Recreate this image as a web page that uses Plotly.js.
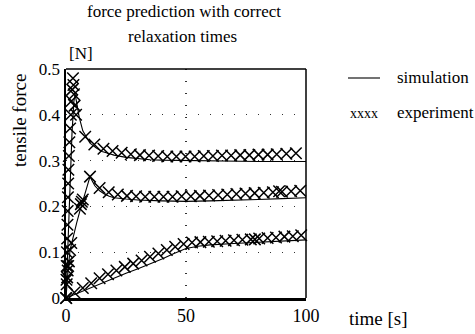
<!DOCTYPE html>
<html>
<head>
<meta charset="utf-8">
<script src="https://cdn.plot.ly/plotly-3.0.1.min.js"></script>
<style>html,body{margin:0;padding:0;background:#fff}#chart{width:475px;height:334px}</style>
</head>
<body>
<div id="chart"></div>
<script>
// Simulation lines
var sim1T = [0, 0.8, 1.7, 2.5, 3.3, 3.8, 4.5, 5.5, 7, 8.5, 10, 12.5, 15, 17.5, 20, 25, 30, 35, 40, 50, 60, 70, 80, 90, 100];
var sim1F = [0, 0.13, 0.26, 0.36, 0.43, 0.445, 0.425, 0.395, 0.365, 0.35, 0.338, 0.328, 0.32, 0.316, 0.312, 0.307, 0.304, 0.302, 0.301, 0.300, 0.299, 0.298, 0.298, 0.298, 0.298];
var sim2T = [0, 0.5, 1, 1.7, 3, 4.5, 5.8, 8, 10, 11, 12, 14, 16, 18, 20, 25, 30, 40, 50, 60, 70, 80, 90, 100];
var sim2F = [0, 0.04, 0.07, 0.105, 0.135, 0.165, 0.19, 0.23, 0.265, 0.255, 0.245, 0.234, 0.227, 0.222, 0.219, 0.216, 0.214, 0.212, 0.211, 0.212, 0.213, 0.215, 0.217, 0.219];
var sim3T = [0, 5, 10, 15, 20, 25, 30, 35, 40, 45, 50, 55, 60, 70, 80, 90, 100];
var sim3F = [0, 0.011, 0.022, 0.033, 0.044, 0.054, 0.064, 0.074, 0.085, 0.097, 0.108, 0.113, 0.116, 0.119, 0.122, 0.125, 0.127];

// Experiment markers
var exp1T = [0.1, 0.2, 0.3, 0.4, 0.5, 0.6, 0.7, 0.8, 0.9, 1.0, 1.2, 1.4, 1.7, 2.0, 2.3, 2.6, 2.9, 3.1, 3.3, 3.6, 4.2, 8, 11.8, 15.6, 19.4, 23.2, 27, 30.8, 34.6, 38.4, 42.2, 46, 49.8, 53.6, 57.4, 61.2, 65, 68.8, 72.6, 76.4, 80.2, 84, 87.8, 91.8, 95.8];
var exp1F = [0.0, 0.04, 0.07, 0.10, 0.13, 0.16, 0.19, 0.22, 0.25, 0.28, 0.31, 0.34, 0.37, 0.40, 0.43, 0.455, 0.48, 0.465, 0.445, 0.42, 0.40, 0.352, 0.335, 0.326, 0.321, 0.317, 0.314, 0.312, 0.311, 0.310, 0.309, 0.309, 0.309, 0.309, 0.310, 0.310, 0.311, 0.311, 0.312, 0.312, 0.313, 0.313, 0.314, 0.315, 0.316];
var exp2T = [0.3, 0.5, 0.7, 0.9, 1.2, 1.7, 2.2, 5.8, 6.2, 6.6, 7.0, 10.0, 14, 17.8, 21.6, 25.4, 29.2, 33, 36.8, 40.6, 44.4, 48.2, 52, 55.8, 59.6, 63.4, 67.2, 71, 74.8, 78.6, 82.4, 86.2, 88.8, 90, 93.8, 97.6];
var exp2F = [0.03, 0.045, 0.06, 0.07, 0.08, 0.105, 0.12, 0.195, 0.205, 0.21, 0.215, 0.265, 0.24, 0.231, 0.226, 0.223, 0.222, 0.221, 0.221, 0.221, 0.221, 0.222, 0.222, 0.223, 0.224, 0.225, 0.226, 0.227, 0.228, 0.229, 0.230, 0.231, 0.233, 0.232, 0.233, 0.234];
var exp3T = [0, 3.5, 7, 10.5, 14, 17.5, 21, 24.5, 28, 31.5, 35, 38.5, 42, 45.5, 49, 52.5, 56, 59.5, 63, 66.5, 70, 73.5, 77, 78.7, 80.5, 84, 87.5, 91, 94.5, 98];
var exp3F = [0, 0.012, 0.022, 0.032, 0.043, 0.052, 0.06, 0.068, 0.075, 0.082, 0.09, 0.097, 0.105, 0.112, 0.118, 0.121, 0.122, 0.123, 0.124, 0.125, 0.126, 0.127, 0.128, 0.128, 0.13, 0.131, 0.132, 0.134, 0.135, 0.137];

var FONT = '"Liberation Serif", "Times New Roman", serif';
function simTrace(t, f) {
  return {x: t, y: f, type: 'scatter', mode: 'lines', line: {color: '#000', width: 1.1}, showlegend: false, cliponaxis: false, hoverinfo: 'skip'};
}
function expTrace(t, f) {
  return {x: t, y: f, type: 'scatter', mode: 'markers', showlegend: false, cliponaxis: false, hoverinfo: 'skip',
    marker: {symbol: 'x-thin', size: 11.5, color: '#000', line: {color: '#000', width: 1.5}}};
}
var data = [simTrace(sim1T, sim1F), simTrace(sim2T, sim2F), simTrace(sim3T, sim3F),
            expTrace(exp1T, exp1F), expTrace(exp2T, exp2F), expTrace(exp3T, exp3F)];

function px(x) { return (x - 66) / 240; }
function py(y) { return (298 - y) / 229; }
function ann(text, x, y, size, extra) {
  var a = {text: text, xref: 'paper', yref: 'paper', x: px(x), y: py(y), showarrow: false,
    font: {family: FONT, size: size, color: '#000'}, xanchor: 'center', yanchor: 'middle'};
  for (var k in extra) a[k] = extra[k];
  return a;
}

var layout = {
  width: 475, height: 334,
  margin: {l: 66, r: 169, t: 69, b: 36},
  paper_bgcolor: '#fff', plot_bgcolor: '#fff',
  font: {family: FONT, size: 17, color: '#000'},
  xaxis: {range: [0, 100], tickvals: [0, 50, 100], ticktext: ['0', '50', '100'], ticks: '',
    showline: true, linewidth: 2.5, linecolor: '#000', zeroline: false,
    showgrid: true, gridcolor: '#333', gridwidth: 1.2, griddash: '1.2px,10.8px',
    tickfont: {family: FONT, size: 18, color: '#000'}, fixedrange: true},
  yaxis: {range: [0, 0.5], tickvals: [0, 0.1, 0.2, 0.3, 0.4, 0.5], ticktext: ['0', '0.1', '0.2', '0.3', '0.4', '0.5'], ticks: '',
    showline: true, linewidth: 2.5, linecolor: '#000', zeroline: false,
    showgrid: true, gridcolor: '#333', gridwidth: 1.2, griddash: '1.2px,10.8px',
    tickfont: {family: FONT, size: 17, color: '#000'}, fixedrange: true},
  shapes: [
    {type: 'line', xref: 'paper', yref: 'paper', x0: 0, x1: 1, y0: 1, y1: 1, line: {color: '#000', width: 1.5}},
    {type: 'line', xref: 'paper', yref: 'paper', x0: 1, x1: 1, y0: 0, y1: 1, line: {color: '#000', width: 1.5}},
    {type: 'line', xref: 'paper', yref: 'paper', x0: px(348), x1: px(380), y0: py(78), y1: py(78), line: {color: '#000', width: 1.1}}
  ],
  annotations: [
    ann('force prediction with correct', 184, 12, 17),
    ann('relaxation times', 182, 37, 17),
    ann('[N]', 81, 53, 17),
    ann('tensile force', 19, 121, 19, {textangle: -90}),
    ann('time [s]', 378, 318, 19),
    ann('simulation', 395, 77, 17, {xanchor: 'left'}),
    ann('xxxx', 364, 113, 14),
    ann('experiment', 395, 112, 17, {xanchor: 'left'})
  ]
};
Plotly.newPlot('chart', data, layout, {staticPlot: true, displayModeBar: false});
</script>
</body>
</html>
